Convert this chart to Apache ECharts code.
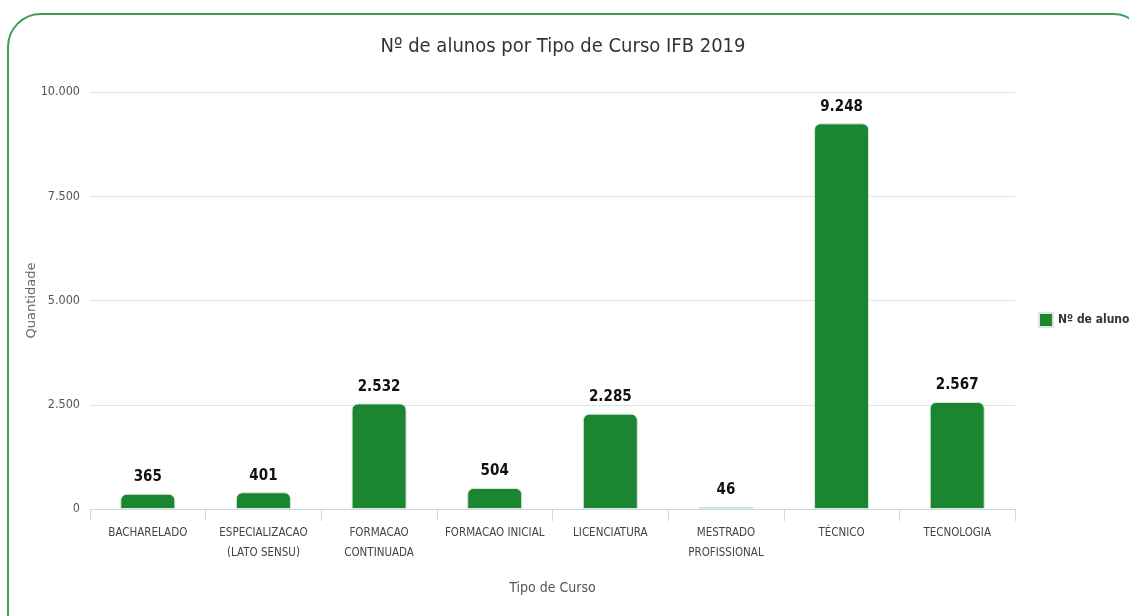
<!DOCTYPE html>
<html><head><meta charset="utf-8">
<script src="https://cdn.jsdelivr.net/npm/echarts@6/dist/echarts.min.js"></script>
<style>
html,body{margin:0;padding:0;background:#fff;overflow:hidden;}
#frame{position:absolute;left:7px;top:13px;width:1140px;height:640px;border:2px solid #3e9e52;border-radius:34px;box-sizing:border-box;}
#chart{position:absolute;left:0;top:0;width:1129px;height:616px;}
</style></head>
<body>
<div id="frame"></div>
<div id="chart"></div>
<script>
const categories = ['BACHARELADO','ESPECIALIZACAO\n(LATO SENSU)','FORMACAO\nCONTINUADA','FORMACAO INICIAL','LICENCIATURA','MESTRADO\nPROFISSIONAL','TÉCNICO','TECNOLOGIA'];
const alunos = [365, 401, 2532, 504, 2285, 46, 9248, 2567];
const yTicks = [0, 2500, 5000, 7500, 10000];
const seriesName = 'Nº de alunos';

const narrow = '"DejaVu Sans Condensed", "Liberation Sans Narrow", sans-serif';
const fmt = v => String(v).replace(/\B(?=(\d{3})+(?!\d))/g, '.');

const chart = echarts.init(document.getElementById('chart'));
chart.setOption({
  animation: false,
  title: {
    text: 'Nº de alunos por Tipo de Curso IFB 2019',
    left: 558, top: 32, textAlign: 'center',
    textStyle: {fontFamily: narrow, fontSize: 20, fontWeight: 'normal', color: '#333'}
  },
  legend: {
    data: [seriesName], left: 1033, top: 307, itemWidth: 14, itemHeight: 14, itemGap: 5,
    icon: 'rect',
    textStyle: {fontFamily: narrow, fontSize: 12, fontWeight: 'bold', color: '#333'}
  },
  grid: {left: 90, right: 114, top: 92, bottom: 107},
  xAxis: {
    type: 'category', data: categories,
    name: 'Tipo de Curso', nameLocation: 'middle', nameGap: 72,
    nameTextStyle: {fontFamily: narrow, fontSize: 14, color: '#555'},
    axisLine: {lineStyle: {color: '#ccd6eb', width: 1}},
    axisTick: {show: true, length: 12, lineStyle: {color: '#ccd6eb'}},
    axisLabel: {fontFamily: narrow, fontSize: 11.5, color: '#444', margin: 14, lineHeight: 20, interval: 0}
  },
  yAxis: {
    type: 'value', min: yTicks[0], max: yTicks[yTicks.length-1], interval: 2500,
    name: 'Quantidade', nameLocation: 'middle', nameGap: 52, nameMoveOverlap: false,
    nameTextStyle: {fontFamily: '"DejaVu Sans", sans-serif', fontSize: 13, color: '#666'},
    axisLabel: {fontFamily: narrow, fontSize: 12.5, color: '#555', margin: 10, formatter: fmt},
    splitLine: {lineStyle: {color: '#e3e3e3'}},
    axisLine: {show: false}, axisTick: {show: false}
  },
  series: [{
    name: seriesName, type: 'bar', data: alunos, barWidth: 55,
    itemStyle: {color: '#1b8531', borderRadius: [6,6,0,0], borderColor: '#d7e9d9', borderWidth: 1},
    label: {show: true, position: 'top', distance: 9, formatter: p => fmt(p.value),
      fontFamily: narrow, fontSize: 15, fontWeight: 'bold', color: '#111'}
  }]
});
</script>
</body></html>
